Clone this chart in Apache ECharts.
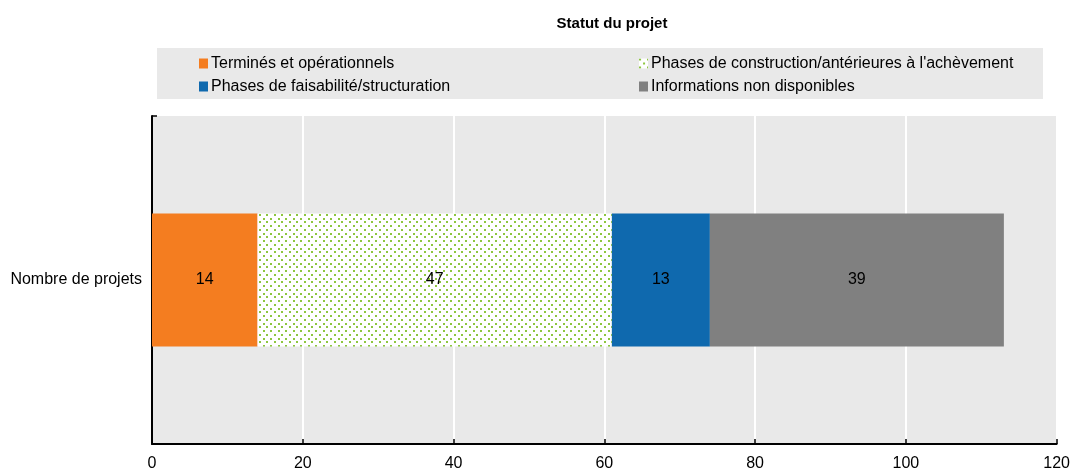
<!DOCTYPE html>
<html><head><meta charset="utf-8">
<script src="https://cdn.jsdelivr.net/npm/echarts@6/dist/echarts.min.js"></script>
<style>html,body{margin:0;padding:0;background:#fff}#c{width:1073px;height:473px}</style>
</head><body><div id="c"></div>
<script>
const title = 'Statut du projet';
const categories = ['Nombre de projets'];
const seriesNames = ['Terminés et opérationnels', 'Phases de construction/antérieures à l\'achèvement', 'Phases de faisabilité/structuration', 'Informations non disponibles'];
const termines = [14];
const construction = [47];
const faisabilite = [13];
const nonDispo = [39];
const xTicks = [0, 20, 40, 60, 80, 100, 120];

const FONT = '"Liberation Sans", Arial, sans-serif';

// dotted pattern
const tile = document.createElement('canvas');
tile.width = 15; tile.height = 15;
const tc = tile.getContext('2d');
tc.fillStyle = '#ffffff'; tc.fillRect(0, 0, 15, 15);
tc.fillStyle = '#8dc63f';
[[0,0],[8,0],[4,4],[11,4],[0,8],[8,8],[4,11],[11,11]].forEach(p => tc.fillRect(p[0], p[1], 2, 2));
const dotted = { image: tile, repeat: 'repeat' };

const colors = ['#f47d20', dotted, '#0f69ae', '#808080'];
const values = [termines, construction, faisabilite, nonDispo];

const chart = echarts.init(document.getElementById('c'), null, { renderer: 'canvas' });
chart.setOption({
  animation: false,
  backgroundColor: '#ffffff',
  title: {
    text: title, left: 607, top: 11, textAlign: 'center',
    textStyle: { fontFamily: FONT, fontSize: 15, fontWeight: 'bold', color: '#000' }
  },
  graphic: [{
    type: 'rect', left: 157, top: 48, z: -1,
    shape: { width: 886, height: 51 },
    style: { fill: '#e9e9e9' }
  }],
  legend: {
    left: 199, top: 52, width: 900, padding: 0,
    itemGap: 0, itemWidth: 9, itemHeight: 10, icon: 'rect',
    data: seriesNames,
    textStyle: { fontFamily: FONT, fontSize: 16, color: '#000', width: 428, lineHeight: 23, padding: [0,0,0,-2] }
  },
  grid: { left: 152, right: 16, top: 116, bottom: 29, backgroundColor: '#e9e9e9', show: true, borderWidth: 0 },
  xAxis: {
    type: 'value', min: 0, max: 120, interval: 20,
    axisLine: { show: true, lineStyle: { color: '#000', width: 2 } },
    axisTick: { show: true, inside: true, length: 5, lineStyle: { color: '#000', width: 1.5 } },
    splitLine: { show: true, lineStyle: { color: '#ffffff', width: 2 } },
    axisLabel: { fontFamily: FONT, fontSize: 16, color: '#000', margin: 12,
      formatter: v => xTicks.indexOf(v) >= 0 ? String(v) : '' }
  },
  yAxis: {
    type: 'category', data: categories,
    axisLine: { show: true, lineStyle: { color: '#000', width: 2 } },
    axisTick: { show: true, inside: true, length: 5, lineStyle: { color: '#000', width: 1.5 } },
    axisLabel: { fontFamily: FONT, fontSize: 16, color: '#000', margin: 10 }
  },
  series: seriesNames.map((n, i) => ({
    name: n, type: 'bar', stack: 'total', barWidth: '40.5%',
    data: values[i],
    itemStyle: { color: colors[i] },
    label: { show: true, position: 'inside', color: '#000', fontFamily: FONT, fontSize: 16 }
  }))
});
</script></body></html>
